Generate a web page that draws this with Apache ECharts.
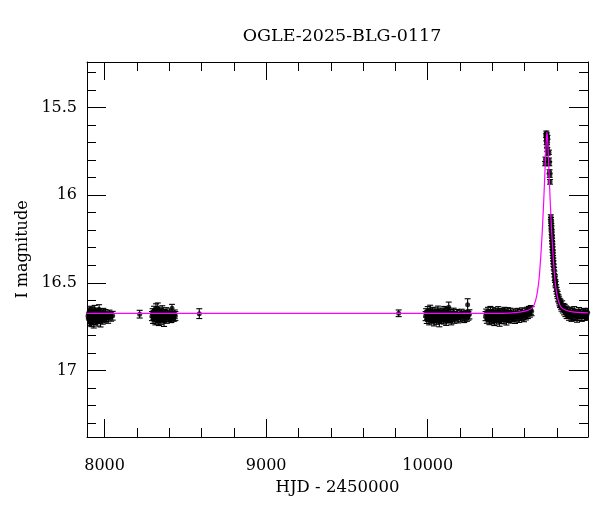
<!DOCTYPE html>
<html><head><meta charset="utf-8">
<script src="https://cdn.jsdelivr.net/npm/echarts@6/dist/echarts.min.js"></script>
<style>html,body{margin:0;padding:0;background:#fff}#c{width:600px;height:512px}</style>
</head><body><div id="c"></div>
<script>
const chartTitle = 'OGLE-2025-BLG-0117';
const xName = 'HJD - 2450000';
const yName = 'I magnitude';
const xRange = [7891, 10992];
const yRange = [15.24, 17.38];

// [HJD-2450000, I mag, error]
const season2017 = [[7897,16.690,0.025],[7899,16.705,0.028],[7901,16.672,0.024],[7903,16.698,0.026],[7904,16.684,0.022],[7906,16.715,0.028],[7908,16.668,0.025],[7909,16.692,0.023],[7911,16.706,0.027],[7913,16.679,0.024],[7915,16.660,0.026],[7916,16.695,0.025],[7918,16.720,0.030],[7920,16.684,0.024],[7922,16.701,0.026],[7923,16.665,0.025],[7925,16.689,0.023],[7927,16.710,0.028],[7929,16.676,0.024],[7931,16.694,0.025],[7933,16.728,0.030],[7935,16.681,0.024],[7937,16.699,0.027],[7939,16.655,0.026],[7941,16.688,0.024],[7943,16.712,0.027],[7946,16.674,0.025],[7948,16.697,0.024],[7950,16.683,0.026],[7953,16.718,0.029],[7955,16.669,0.025],[7958,16.693,0.024],[7960,16.706,0.026],[7963,16.680,0.025],[7966,16.652,0.027],[7969,16.700,0.025],[7972,16.687,0.024],[7975,16.722,0.030],[7978,16.675,0.025],[7981,16.696,0.026],[7985,16.684,0.024],[7988,16.709,0.027],[7992,16.671,0.025],[7996,16.692,0.024],[8000,16.702,0.026],[8005,16.678,0.025],[8010,16.695,0.026],[8016,16.686,0.024],[8022,16.704,0.027],[8030,16.681,0.025],[8040,16.693,0.026],[8050,16.688,0.025]];
const single2018 = [[8217,16.679,0.022]];
const season2018 = [[8293,16.690,0.026],[8297,16.672,0.024],[8300,16.705,0.027],[8303,16.684,0.025],[8306,16.660,0.026],[8309,16.698,0.025],[8311,16.676,0.024],[8314,16.712,0.028],[8316,16.688,0.025],[8318,16.650,0.030],[8320,16.694,0.024],[8322,16.670,0.025],[8325,16.708,0.027],[8327,16.683,0.024],[8329,16.645,0.030],[8331,16.700,0.026],[8333,16.678,0.025],[8336,16.716,0.028],[8338,16.690,0.024],[8340,16.665,0.026],[8343,16.697,0.025],[8345,16.681,0.024],[8348,16.710,0.027],[8351,16.673,0.025],[8354,16.693,0.024],[8357,16.658,0.027],[8360,16.702,0.026],[8364,16.686,0.025],[8368,16.720,0.029],[8372,16.677,0.024],[8376,16.695,0.025],[8380,16.668,0.026],[8385,16.704,0.027],[8390,16.684,0.025],[8396,16.697,0.024],[8402,16.675,0.026],[8408,16.690,0.025],[8413,16.700,0.027],[8417,16.645,0.022],[8422,16.686,0.025],[8428,16.694,0.026],[8434,16.680,0.025],[8438,16.690,0.026]];
const season2019 = [[8586,16.676,0.028]];
const season2022 = [[9820,16.674,0.019]];
const season2023 = [[9987,16.690,0.026],[9990,16.672,0.024],[9994,16.705,0.027],[9997,16.684,0.025],[10000,16.662,0.026],[10003,16.696,0.025],[10006,16.678,0.024],[10009,16.712,0.028],[10012,16.688,0.025],[10015,16.655,0.027],[10018,16.699,0.025],[10021,16.674,0.024],[10024,16.707,0.027],[10027,16.683,0.025],[10030,16.666,0.026],[10033,16.701,0.026],[10036,16.680,0.025],[10039,16.718,0.028],[10042,16.692,0.024],[10045,16.669,0.026],[10048,16.697,0.025],[10051,16.684,0.024],[10054,16.710,0.027],[10057,16.676,0.025],[10060,16.694,0.024],[10063,16.660,0.027],[10066,16.703,0.026],[10069,16.687,0.025],[10072,16.722,0.029],[10075,16.679,0.024],[10078,16.696,0.025],[10081,16.670,0.026],[10084,16.706,0.027],[10087,16.686,0.025],[10090,16.699,0.024],[10093,16.675,0.026],[10096,16.691,0.025],[10099,16.708,0.027],[10102,16.660,0.025],[10105,16.688,0.025],[10108,16.698,0.026],[10111,16.682,0.025],[10114,16.715,0.028],[10117,16.672,0.024],[10120,16.694,0.025],[10124,16.667,0.026],[10127,16.703,0.027],[10130,16.640,0.030],[10134,16.689,0.025],[10138,16.700,0.026],[10142,16.677,0.025],[10146,16.712,0.028],[10150,16.685,0.024],[10155,16.697,0.025],[10160,16.671,0.026],[10165,16.704,0.027],[10170,16.688,0.025],[10176,16.695,0.024],[10182,16.678,0.026],[10188,16.702,0.027],[10195,16.684,0.025],[10202,16.696,0.026],[10210,16.676,0.025],[10218,16.690,0.026],[10226,16.700,0.027],[10234,16.682,0.025],[10242,16.694,0.026],[10247,16.626,0.035],[10252,16.688,0.025],[10258,16.680,0.026]];
const season2024 = [[10358,16.690,0.026],[10362,16.675,0.025],[10366,16.704,0.027],[10370,16.684,0.024],[10373,16.666,0.026],[10376,16.697,0.025],[10379,16.680,0.024],[10382,16.711,0.028],[10385,16.688,0.025],[10388,16.662,0.027],[10391,16.699,0.025],[10394,16.677,0.024],[10397,16.706,0.027],[10400,16.685,0.025],[10403,16.668,0.026],[10406,16.701,0.026],[10409,16.682,0.025],[10412,16.716,0.028],[10415,16.691,0.024],[10418,16.671,0.026],[10421,16.696,0.025],[10424,16.683,0.024],[10427,16.709,0.027],[10430,16.675,0.025],[10433,16.693,0.024],[10436,16.663,0.027],[10439,16.702,0.026],[10442,16.686,0.025],[10445,16.719,0.029],[10448,16.679,0.024],[10451,16.695,0.025],[10454,16.672,0.026],[10457,16.705,0.027],[10460,16.687,0.025],[10463,16.698,0.024],[10466,16.676,0.026],[10469,16.690,0.025],[10472,16.707,0.027],[10475,16.665,0.025],[10478,16.688,0.025],[10481,16.697,0.026],[10484,16.681,0.025],[10487,16.713,0.028],[10490,16.673,0.024],[10493,16.693,0.025],[10496,16.668,0.026],[10500,16.700,0.027],[10504,16.684,0.025],[10508,16.694,0.026],[10512,16.670,0.025],[10516,16.703,0.027],[10520,16.686,0.025],[10525,16.697,0.024],[10530,16.676,0.026],[10535,16.691,0.025],[10540,16.705,0.027],[10545,16.680,0.025],[10550,16.693,0.026],[10555,16.671,0.025],[10560,16.688,0.026],[10566,16.699,0.027],[10572,16.677,0.025],[10578,16.690,0.026],[10584,16.668,0.025],[10590,16.684,0.026],[10596,16.695,0.027],[10602,16.673,0.025],[10608,16.686,0.026],[10614,16.665,0.025],[10620,16.678,0.026],[10626,16.660,0.025],[10632,16.670,0.026],[10638,16.655,0.025],[10643,16.662,0.026]];
const season2025 = [[10727,15.820,0.012],[10729,15.795,0.012],[10733,15.660,0.011],[10734,15.645,0.011],[10735,15.680,0.011],[10736,15.700,0.011],[10737,15.655,0.011],[10738,15.720,0.011],[10739,15.690,0.011],[10740,15.740,0.012],[10741,15.670,0.011],[10742,15.760,0.012],[10750,15.755,0.012],[10751,15.800,0.012],[10752,15.820,0.012],[10754,15.867,0.012],[10755,15.886,0.012],[10757,15.924,0.013],[10762,16.125,0.013],[10763,16.140,0.013],[10764,16.160,0.013],[10765,16.175,0.013],[10766,16.190,0.014],[10767,16.210,0.014],[10768,16.225,0.014],[10769,16.245,0.014],[10770,16.260,0.014],[10771,16.280,0.015],[10772,16.295,0.015],[10773,16.310,0.015],[10774,16.330,0.015],[10775,16.345,0.015],[10776,16.360,0.016],[10777,16.375,0.016],[10778,16.390,0.016],[10780,16.410,0.016],[10782,16.430,0.017],[10784,16.450,0.017],[10786,16.470,0.017],[10788,16.480,0.018],[10790,16.500,0.018],[10792,16.510,0.018],[10795,16.530,0.019],[10798,16.545,0.019],[10801,16.560,0.019],[10804,16.570,0.020],[10807,16.585,0.020],[10810,16.590,0.020],[10813,16.600,0.020],[10816,16.610,0.021],[10819,16.620,0.021],[10822,16.615,0.021],[10825,16.630,0.021],[10828,16.640,0.022],[10832,16.625,0.022],[10836,16.650,0.022],[10840,16.640,0.022],[10844,16.660,0.023],[10848,16.645,0.022],[10852,16.670,0.023],[10856,16.655,0.023],[10860,16.680,0.024],[10865,16.660,0.023],[10870,16.675,0.024],[10875,16.690,0.024],[10880,16.665,0.023],[10885,16.680,0.024],[10890,16.695,0.025],[10895,16.670,0.024],[10900,16.685,0.024],[10906,16.660,0.024],[10912,16.690,0.025],[10918,16.675,0.024],[10924,16.700,0.025],[10930,16.680,0.024],[10936,16.665,0.024],[10942,16.690,0.025],[10948,16.675,0.024],[10954,16.695,0.025],[10960,16.680,0.024],[10966,16.670,0.024],[10972,16.690,0.025],[10978,16.675,0.024],[10984,16.685,0.025],[10990,16.670,0.024]];

// model curve
const modelHjd = [7891,10400,10500,10580,10620,10650,10668,10680,10690,10700,10707,10712,10718,10724,10730,10734,10738,10742,10746,10752,10758,10764,10769,10776,10786,10796,10808,10826,10856,10896,10992];
const modelMag = [16.675,16.675,16.673,16.666,16.657,16.640,16.600,16.545,16.470,16.345,16.240,16.150,16.030,15.900,15.762,15.680,15.640,15.680,15.762,15.900,16.030,16.150,16.240,16.345,16.470,16.545,16.600,16.640,16.657,16.666,16.672];

const points = [].concat(season2017, single2018, season2018, season2019, season2022, season2023, season2024, season2025);
const model = modelHjd.map((h, i) => [h, modelMag[i]]);

const FONT = 'DejaVu Serif';
function xAx(pos, showLabel) {
  return {
    type: 'value', position: pos, min: xRange[0], max: xRange[1], splitNumber: 3,
    name: showLabel ? xName : '', nameLocation: 'middle', nameGap: 40,
    nameTextStyle: {fontFamily: FONT, fontSize: 16.5, color: '#000'},
    axisLine: {show: true, onZero: false, lineStyle: {color: '#000', width: 1}},
    axisTick: {show: true, inside: true, length: 18, lineStyle: {color: '#000', width: 1}},
    minorTick: {show: true, splitNumber: 5, length: 9, lineStyle: {color: '#000', width: 1}},
    axisLabel: {show: showLabel, margin: 21, showMinLabel: false, showMaxLabel: false,
      fontFamily: FONT, fontSize: 16, color: '#000', formatter: v => String(v)},
    splitLine: {show: false}, minorSplitLine: {show: false}
  };
}
function yAx(pos, showLabel) {
  return {
    type: 'value', position: pos, inverse: true, min: yRange[0], max: yRange[1], splitNumber: 4,
    name: showLabel ? yName : '', nameLocation: 'middle', nameGap: 56,
    nameTextStyle: {fontFamily: FONT, fontSize: 16, color: '#000'},
    axisLine: {show: true, onZero: false, lineStyle: {color: '#000', width: 1}},
    axisTick: {show: true, inside: true, length: 19, lineStyle: {color: '#000', width: 1}},
    minorTick: {show: true, splitNumber: 5, length: 9, lineStyle: {color: '#000', width: 1}},
    axisLabel: {show: showLabel, margin: 10, showMinLabel: false, showMaxLabel: false,
      fontFamily: FONT, fontSize: 16, color: '#000', formatter: v => String(v)},
    splitLine: {show: false}, minorSplitLine: {show: false}
  };
}

const chart = echarts.init(document.getElementById('c'), null, {renderer: 'canvas'});
chart.setOption({
  animation: false,
  backgroundColor: '#fff',
  title: {text: chartTitle, left: 337, textAlign: 'center', top: 22,
    textStyle: {fontFamily: FONT, fontSize: 17.5, fontWeight: 'normal', color: '#000'}},
  grid: {left: 87, right: 12, top: 62, bottom: 75},
  xAxis: [xAx('bottom', true), xAx('top', false)],
  yAxis: [yAx('left', true), yAx('right', false)],
  series: [
    {
      type: 'custom', data: points, encode: {x: 0, y: 1}, clip: true, z: 2,
      renderItem: function (params, api) {
        const x = api.value(0), m = api.value(1), e = api.value(2);
        const a = api.coord([x, m - e]);
        const b = api.coord([x, m + e]);
        const hw = 3;
        const st = {stroke: '#000', lineWidth: 1.1};
        return {type: 'group', children: [
          {type: 'line', shape: {x1: a[0], y1: a[1], x2: b[0], y2: b[1]}, style: st},
          {type: 'line', shape: {x1: a[0] - hw, y1: a[1], x2: a[0] + hw, y2: a[1]}, style: st},
          {type: 'line', shape: {x1: b[0] - hw, y1: b[1], x2: b[0] + hw, y2: b[1]}, style: st}
        ]};
      }
    },
    {
      type: 'scatter', data: points.map(p => [p[0], p[1]]), symbol: 'circle', symbolSize: 5, z: 3,
      itemStyle: {color: '#000'}
    },
    {
      type: 'line', data: model, showSymbol: false, smooth: 0.2, z: 4,
      lineStyle: {color: '#ff00ff', width: 1.2}
    }
  ]
});
</script></body></html>
